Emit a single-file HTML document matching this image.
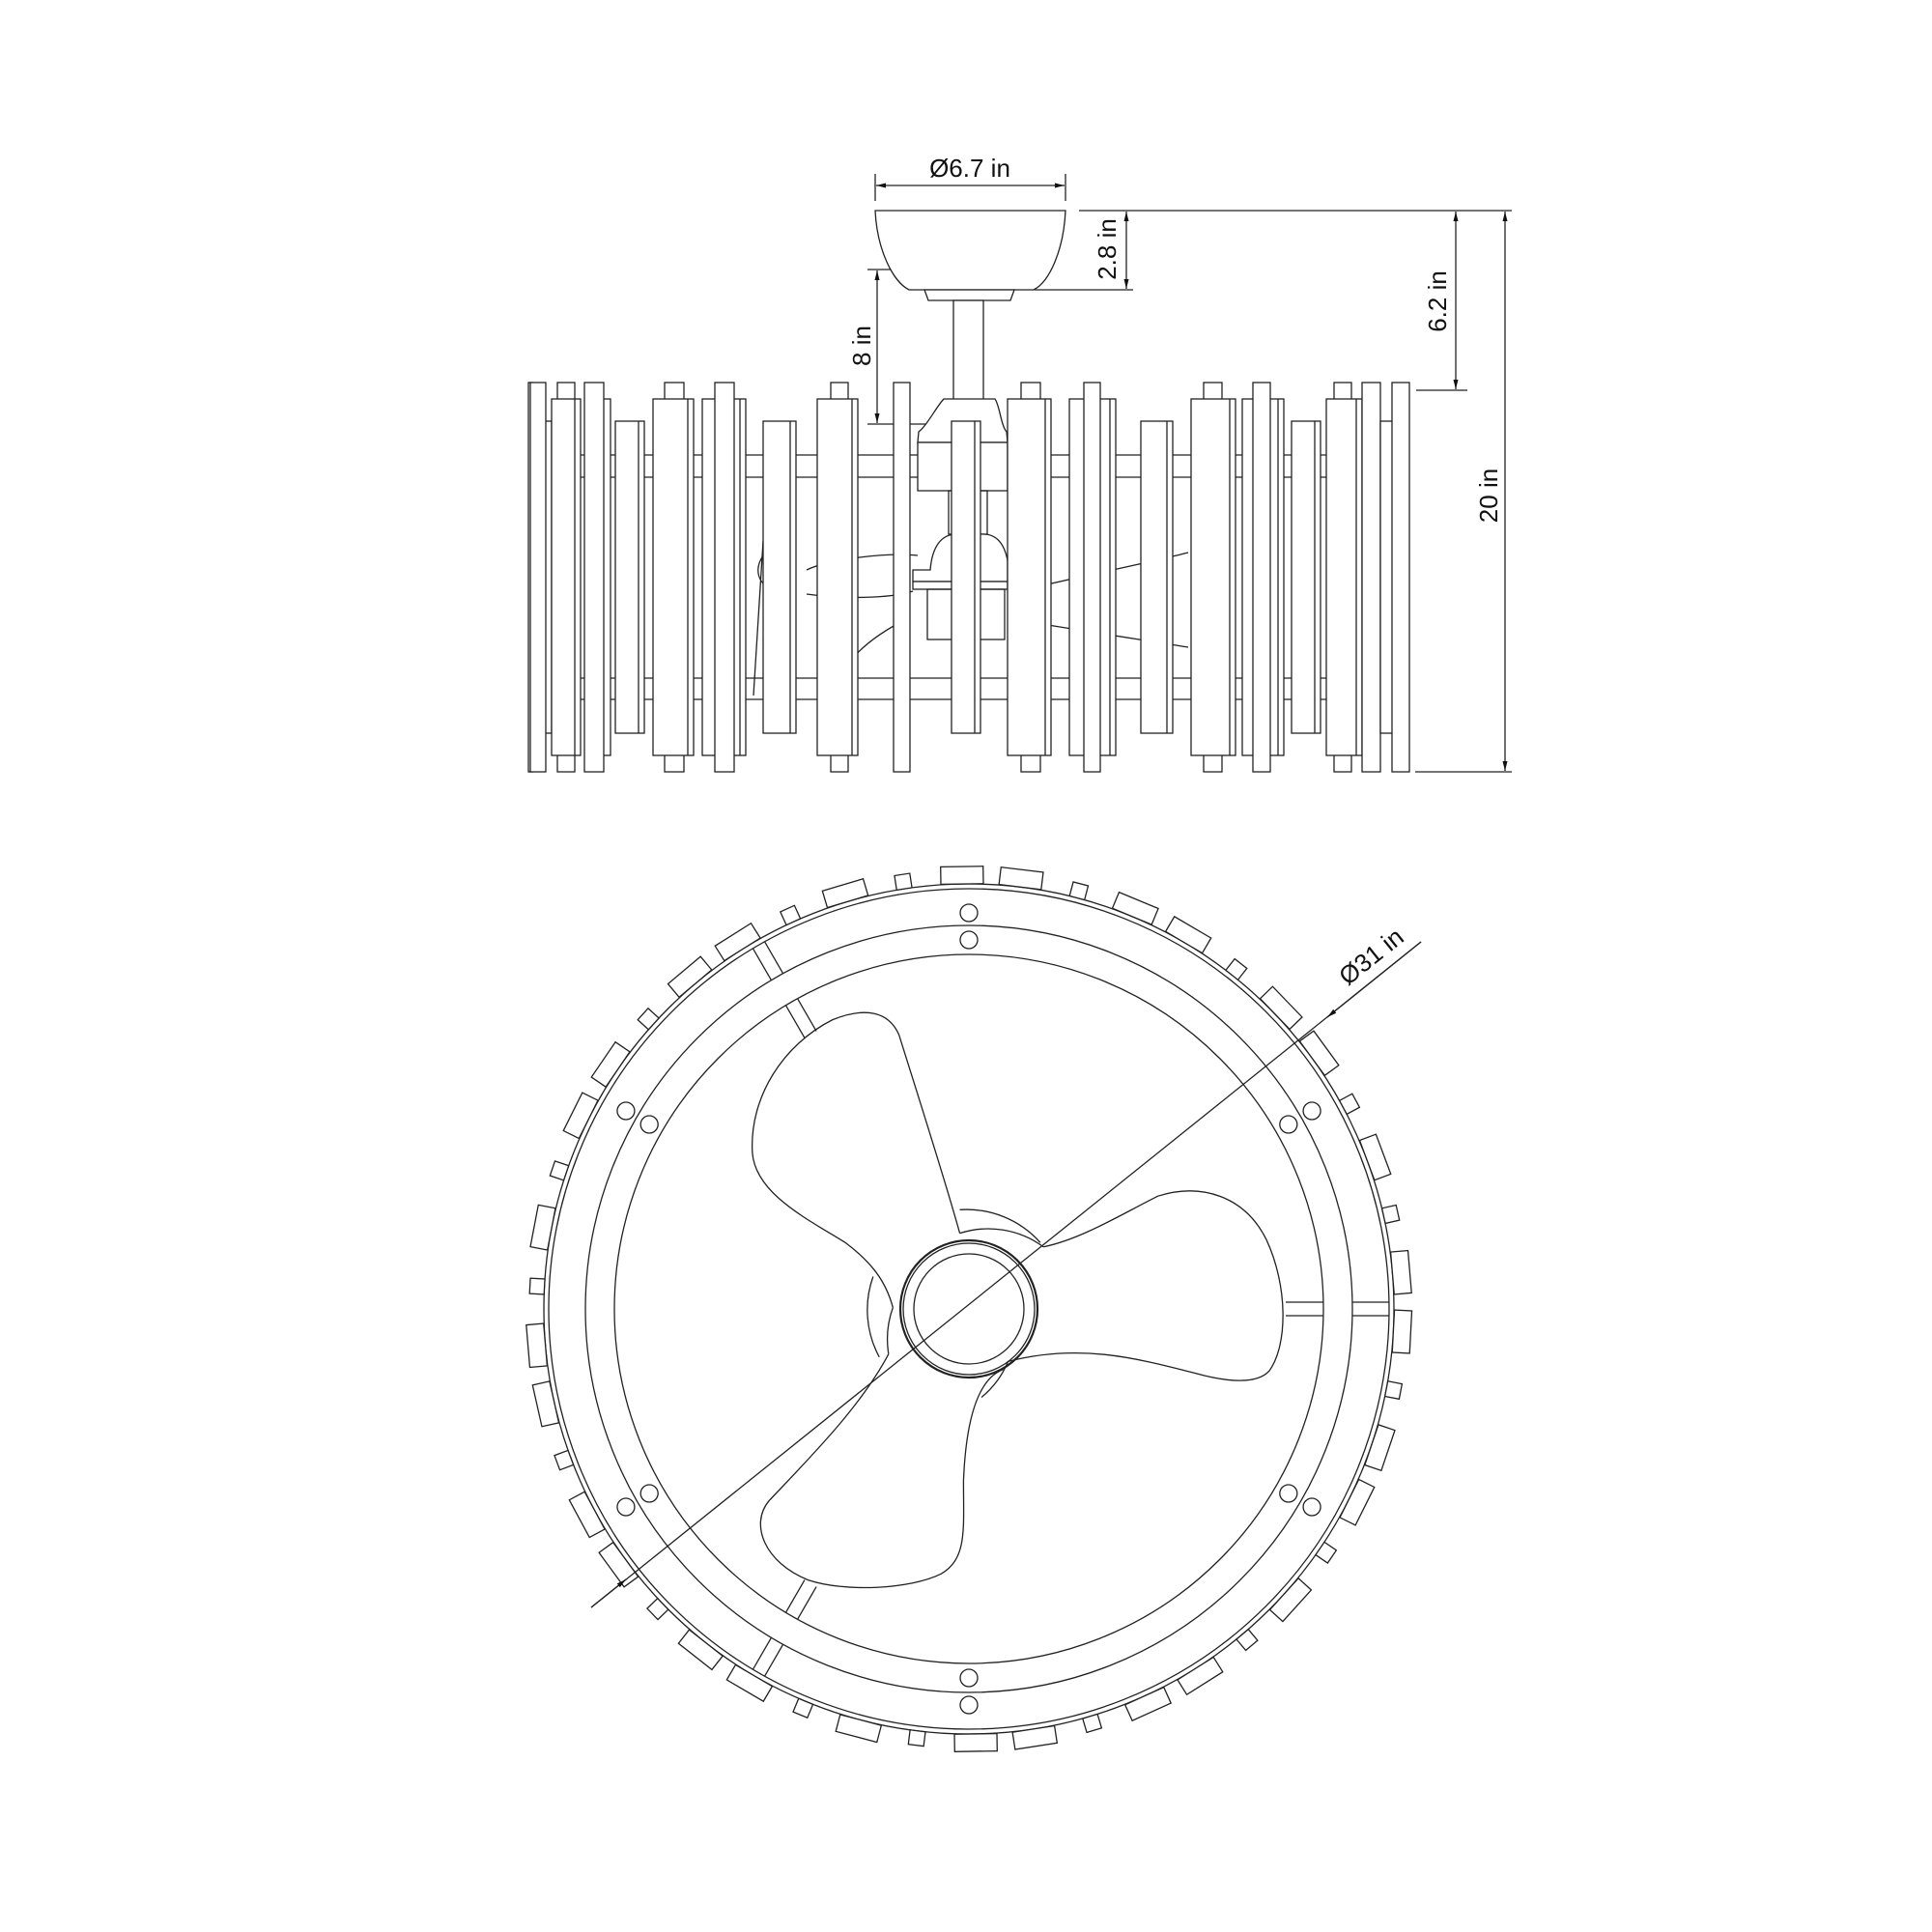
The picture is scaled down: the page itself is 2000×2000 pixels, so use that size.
<!DOCTYPE html>
<html><head><meta charset="utf-8"><style>
html,body{margin:0;padding:0;background:#fff}
svg{display:block}
text{font-family:"Liberation Sans",Arial,sans-serif;fill:#111}
.l{fill:none;stroke:#222;stroke-width:1.3}
.w{fill:#fff;stroke:#222;stroke-width:1.3}
.n{vector-effect:non-scaling-stroke}
</style></head><body>
<svg id="s" width="2000" height="2000" viewBox="0 0 2000 2000" xmlns="http://www.w3.org/2000/svg">
<defs>
<marker id="a" viewBox="0 0 10 10" refX="10" refY="5" markerWidth="10" markerHeight="10" orient="auto-start-reverse" markerUnits="userSpaceOnUse"><path d="M0,2.5 L10,5 L0,7.5 Z" fill="#111"/></marker>
</defs>
<g class="l">
<line x1="906" y1="180" x2="906" y2="208"/><line x1="1103" y1="180" x2="1103" y2="208"/>
<line x1="907" y1="192" x2="1102" y2="192" marker-start="url(#a)" marker-end="url(#a)"/>
<line x1="1117" y1="218" x2="1565" y2="218"/>
<line x1="1166" y1="219" x2="1166" y2="299" marker-start="url(#a)" marker-end="url(#a)"/>
<line x1="1071" y1="300" x2="1173" y2="300"/>
<line x1="898" y1="279" x2="951" y2="279"/><line x1="898" y1="439" x2="962" y2="439"/>
<line x1="908" y1="280" x2="908" y2="438" marker-start="url(#a)" marker-end="url(#a)"/>
<line x1="1507" y1="219" x2="1507" y2="403" marker-start="url(#a)" marker-end="url(#a)"/>
<line x1="1466" y1="404" x2="1519" y2="404"/>
<line x1="1558" y1="219" x2="1558" y2="798" marker-start="url(#a)" marker-end="url(#a)"/>
<line x1="1465" y1="799" x2="1565" y2="799"/>
</g>
<text x="1004" y="183" font-size="26" text-anchor="middle">Ø6.7 in</text>
<text transform="translate(1155,258) rotate(-90)" font-size="26" text-anchor="middle">2.8 in</text>
<text transform="translate(901,358) rotate(-90)" font-size="26" text-anchor="middle">8 in</text>
<text transform="translate(1497,312) rotate(-90)" font-size="26" text-anchor="middle">6.2 in</text>
<text transform="translate(1550,513) rotate(-90)" font-size="26" text-anchor="middle">20 in</text>
<path class="w" d="M906,218 C908,260 925,292 941,300 L1070,300 C1086,292 1101,260 1103,218 Z"/>
<path class="w" d="M957,300 L1050,300 L1046,311 L961,311 Z"/>
<rect class="w" x="987" y="311" width="31" height="110"/>
<g class="l">
<line x1="560" y1="471" x2="1450" y2="471"/><line x1="560" y1="494" x2="1450" y2="494"/>
<line x1="560" y1="702" x2="1450" y2="702"/><line x1="560" y1="724" x2="1450" y2="724"/>
</g>
<path class="w" d="M977,413 L1030,413 C1035,420 1036,440 1042,447 L1043,458 L950,458 L951,447 C960,440 970,420 977,413 Z"/>
<rect class="w" x="950" y="458" width="93" height="50"/>
<rect class="l" x="982" y="508" width="40" height="45"/>
<path class="w" d="M963,590 C965,565 975,553 990,553 L1018,553 C1033,553 1040,565 1043,580 L1043,602 L945,602 L945,590 Z"/>
<rect class="w" x="945" y="602" width="98" height="8"/>
<rect class="l" x="960" y="610" width="80" height="52"/>
<path class="l" d="M835,590 C860,578 920,572 950,575 M835,615 C870,620 920,620 945,612 M1043,615 C1100,600 1180,585 1230,572 M1043,640 C1100,650 1200,665 1230,670 M940,640 C900,660 880,680 870,700 M790,575 C780,590 785,605 800,610 M800,650 C790,680 790,700 800,710 M790,560 L780,720"/>
<g id="slats"></g>
<g id="bot">
<circle class="l" cx="1003" cy="1355" r="440"/>
<circle class="l" cx="1003" cy="1355" r="435"/>
<circle class="l" cx="1003" cy="1355" r="397"/>
<circle class="l" cx="1003" cy="1355" r="367"/>
<circle class="l" cx="1003" cy="1355" r="71" style="stroke-width:2.2"/>
<circle class="l" cx="1003" cy="1355" r="68"/>
<circle class="l" cx="1003" cy="1355" r="57"/>
</g>
<g transform="translate(500,860) scale(0.641)">
<path class="l n" d="M770,650 C745,560 700,420 672,330 C655,290 615,285 565,305 C485,345 430,430 435,520 C440,585 520,625 585,665 C625,695 650,725 662,770"/>
<path class="l n" d="M905,672 C965,660 1030,620 1090,590 C1160,568 1230,590 1265,660 C1300,735 1300,830 1270,872 C1250,895 1200,890 1150,876 C1050,850 960,828 848,857"/>
<path class="l n" d="M840,870 C800,885 780,950 776,1050 C776,1130 782,1175 740,1200 C690,1225 585,1230 525,1210 C455,1182 430,1120 462,1082 C530,1010 610,930 655,845"/>
<path class="l n" d="M770,650 A150,150 0 0 1 905,672 M662,770 A150,150 0 0 0 655,845 M848,857 A150,150 0 0 1 805,915"/>
<path class="l n" d="M630,720 A160,160 0 0 0 640,850 M770,612 A160,160 0 0 1 900,665"/>
</g>
<g class="l">
<line x1="612" y1="1664" x2="1471" y2="975"/>
<line x1="612" y1="1664" x2="648" y2="1635" marker-end="url(#a)"/>
<line x1="1471" y1="975" x2="1374" y2="1053" marker-end="url(#a)"/>
</g>
<text transform="translate(1425,997) rotate(-38.7)" font-size="26" text-anchor="middle">Ø31 in</text>
</svg>
<script>
var NS="http://www.w3.org/2000/svg";
function R(p,x,y,w,h,c){var r=document.createElementNS(NS,"rect");r.setAttribute("x",x);r.setAttribute("y",y);r.setAttribute("width",w);r.setAttribute("height",h);r.setAttribute("class",c||"w");p.appendChild(r);return r;}
function L(p,x1,y1,x2,y2){var r=document.createElementNS(NS,"line");r.setAttribute("x1",x1);r.setAttribute("y1",y1);r.setAttribute("x2",x2);r.setAttribute("y2",y2);r.setAttribute("class","l");p.appendChild(r);}
var g=document.getElementById("slats");
var T=396,TB=799,W=413,WB=782,M=436,MB=759;
var list=[
[547,551,"t"],[555,571,"m"],[549,565,"t"],
[577,595,"t"],[571,601,"w"],
[613,632,"w"],[605,625,"t"],
[637,667,"m"],
[688,708,"t"],[676,718,"w"],
[727,772,"w"],[740,760,"t"],
[790,824,"m"],
[860,878,"t"],[846,888,"w"],
[925,942,"t"],
[985,1015,"m"],
[1057,1077,"t"],[1043,1088,"w"],
[1107,1155,"w"],[1122,1139,"t"],
[1181,1214,"m"],
[1246,1265,"t"],[1233,1279,"w"],
[1286,1329,"w"],[1297,1315,"t"],
[1337,1367,"m"],
[1381,1399,"t"],[1373,1410,"w"],
[1410,1429,"t"],
[1429,1449,"m"],[1441,1459,"t"]
];
list.forEach(function(s){var y1,y2;if(s[2]=="t"){y1=T;y2=TB}else if(s[2]=="w"){y1=W;y2=WB}else{y1=M;y2=MB}
R(g,s[0],y1,s[1]-s[0],y2-y1);
if(s[2]!="t"&&s[1]-s[0]>28)L(g,s[1]-6,y1,s[1]-6,y2);});
var b=document.getElementById("bot"),cx=1003,cy=1355;
[-120,0,120].forEach(function(a){var gg=document.createElementNS(NS,"g");gg.setAttribute("transform","rotate("+a+" "+cx+" "+cy+")");b.appendChild(gg);
L(gg,cx+328,cy-7,cx+367,cy-7);L(gg,cx+328,cy+7,cx+367,cy+7);
L(gg,cx+397,cy-7,cx+435,cy-7);L(gg,cx+397,cy+7,cx+435,cy+7);});
[-90,90,-30,30,150,210].forEach(function(a){[382,410].forEach(function(r){var rad=a*Math.PI/180;var c=document.createElementNS(NS,"circle");
c.setAttribute("cx",cx+r*Math.cos(rad));c.setAttribute("cy",cy+r*Math.sin(rad));c.setAttribute("r",9);c.setAttribute("class","l");b.appendChild(c);});});
var pat="LSLLSLSLLSLLSLSLLSL";var n=46;
for(var i=0;i<n;i++){var a=i*360/n+3;var big=pat[i%pat.length]=="L";var w=big?44:16,h=big?18:15;
var gg=document.createElementNS(NS,"g");gg.setAttribute("transform","rotate("+a+" "+cx+" "+cy+")");b.appendChild(gg);
R(gg,cx+440,cy-w/2,h,w,"w");}
</script>
</body></html>
